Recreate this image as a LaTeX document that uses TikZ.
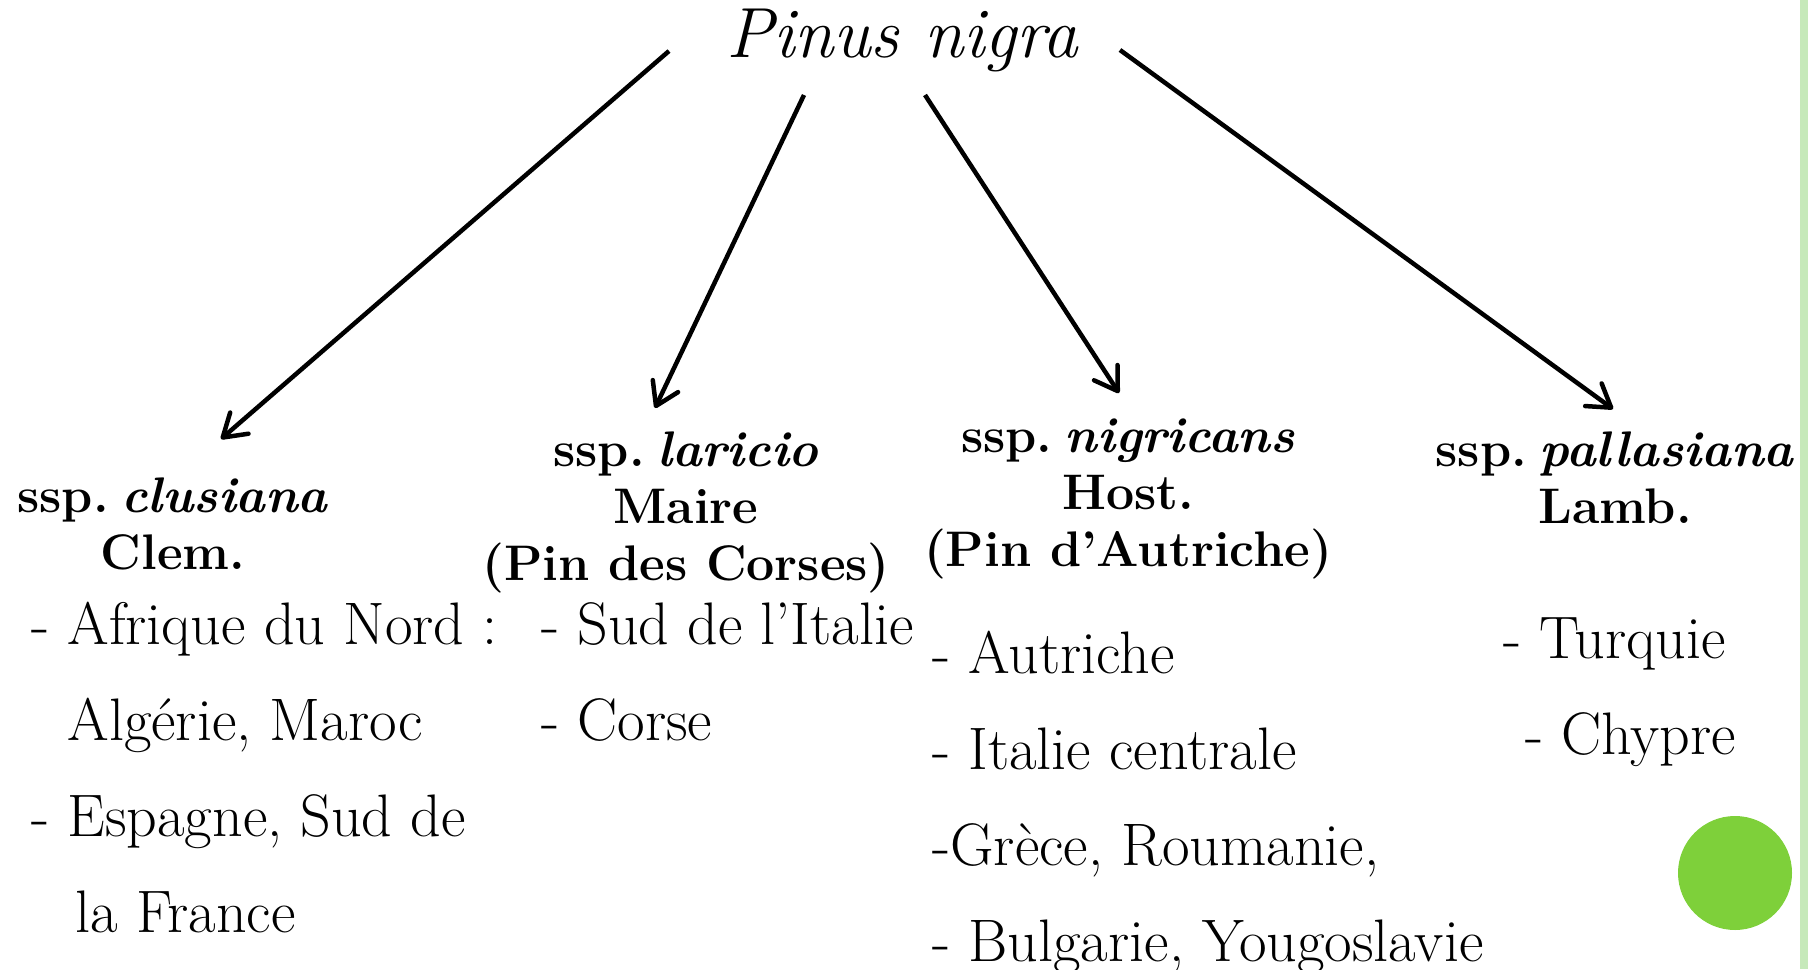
\documentclass[tikz,border=0pt]{standalone}
\usepackage{tikz}
\usetikzlibrary{positioning, calc, arrows.meta}
\definecolor{bargreen}{RGB}{198,233,186}
\definecolor{dotgreen}{RGB}{126,208,58}
\tikzstyle{title} = [inner sep=0pt, font=\fontsize{71}{84}\selectfont\itshape]
\tikzstyle{species} = [inner sep=0pt, align=center, font=\fontsize{50}{57}\selectfont\bfseries]
\tikzstyle{places} = [inner sep=0pt, align=left, font=\fontsize{60}{96}\selectfont]
\tikzstyle{arrow} = [line width=4.5pt, -{Straight Barb[length=22pt, width=28pt, round]}]

\begin{document}
\begin{tikzpicture}[x=1pt, y=-1pt]
    \useasboundingbox (0,0) rectangle (1820,969);
    %背景装饰
    \fill[bargreen] (1800,0) rectangle (1808,969);
    \fill[dotgreen] (1735,873) circle (57);

    %定义节点
    \node (nigra) [title, anchor=base] at (902,57) {Pinus nigra};
    \node (clusiana) [species, anchor=base] at (173,569) {ssp.\hspace{0.25em}\textit{clusiana}\\Clem.};
    \node (laricio) [species, anchor=base] at (686,580) {ssp.\hspace{0.25em}\textit{laricio}\\Maire\\(Pin des Corses)};
    \node (nigricans) [species, anchor=base] at (1128,566) {ssp.\hspace{0.25em}\textit{nigricans}\\Host.\\(Pin d’Autriche)};
    \node (pallasiana) [species, anchor=base] at (1615,523) {ssp.\hspace{0.25em}\textit{pallasiana}\\Lamb.};

    \node (clusianaloc) [places, anchor=base west] at (31,932) {- Afrique du Nord :\\\phantom{- }Algérie, Maroc\\- Espagne, Sud de\\\phantom{- }\hspace{8pt}la France};
    \node (laricioloc) [places, anchor=base west] at (541,740) {- Sud de l’Italie\\- Corse};
    \node (nigricansloc) [places, anchor=base west] at (932,961) {- Autriche\\- Italie centrale\\-Grèce, Roumanie,\\- Bulgarie, Yougoslavie};
    \node (pallasianaloc) [places, anchor=base west] at (1503,754) {- Turquie\\\hspace{22pt}- Chypre};

    %连接箭头
    \draw [arrow] ($(nigra.base) + (-233,-6)$) -- ($(clusiana.base) + (48,-130)$);
    \draw [arrow] ($(nigra.base) + (-98,38)$) -- ($(laricio.base) + (-31,-172)$);
    \draw [arrow] ($(nigra.base) + (23,38)$) -- ($(nigricans.base) + (-9,-173)$);
    \draw [arrow] ($(nigra.base) + (218,-7)$) -- ($(pallasiana.base) + (-2,-114)$);
\end{tikzpicture}
\end{document}
